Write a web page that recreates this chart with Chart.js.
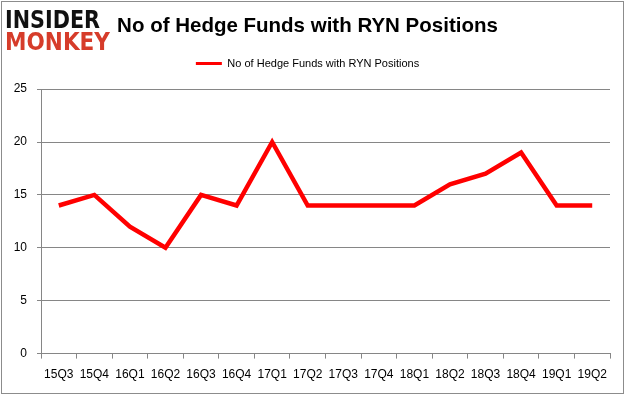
<!DOCTYPE html>
<html>
<head>
<meta charset="utf-8">
<script src="https://cdn.jsdelivr.net/npm/chart.js@4"></script>
<style>
  html, body { margin: 0; padding: 0; background: #fff; }
  #wrap { width: 626px; height: 397px; }
</style>
</head>
<body>
<div id="wrap"><canvas id="myChart" width="626" height="397"></canvas></div>
<script>
// data
var quarters = ['15Q3', '15Q4', '16Q1', '16Q2', '16Q3', '16Q4', '17Q1', '17Q2',
                '17Q3', '17Q4', '18Q1', '18Q2', '18Q3', '18Q4', '19Q1', '19Q2'];
var hedgeFunds = [14, 15, 12, 10, 15, 14, 20, 14, 14, 14, 14, 16, 17, 19, 14, 14];
var seriesName = 'No of Hedge Funds with RYN Positions';
var yTicks = [0, 5, 10, 15, 20, 25];

var gray = '#868686';

// white background, outer frame and the Insider Monkey logo
var frame = {
    id: 'frame',
    beforeInit: function (chart) {
        // leave more room between the legend and the plot
        var fit = chart.legend.fit;
        chart.legend.fit = function () {
            fit.call(this);
            this.height += 10;
        };
    },
    beforeDraw: function (chart) {
        var c = chart.ctx;
        c.save();
        c.fillStyle = '#fff';
        c.fillRect(0, 0, chart.width, chart.height);
        c.strokeStyle = '#8c8c8c';
        c.lineWidth = 1;
        c.strokeRect(1.5, 1.5, 622, 392);
        c.textBaseline = 'alphabetic';
        c.textAlign = 'left';
        c.font = 'bold 25px "DejaVu Sans"';
        c.fillStyle = '#111';
        c.fillText('INSIDER', 5, 28, 95);
        c.fillStyle = '#d63c2a';
        c.fillText('MONKEY', 5, 50, 105);
        c.restore();
    }
};

var ctx = document.getElementById('myChart').getContext('2d');
var myChart = new Chart(ctx, {
    type: 'line',
    data: {
        labels: quarters,
        datasets: [{
            label: seriesName,
            data: hedgeFunds,
            borderColor: '#ff0000',
            backgroundColor: '#ff0000',
            borderWidth: 4.5,
            pointRadius: 0,
            tension: 0,
            fill: false
        }]
    },
    options: {
        responsive: false,
        animation: false,
        layout: { padding: { left: 5, right: 16, top: 8, bottom: 6 } },
        plugins: {
            title: {
                display: true,
                text: seriesName,
                color: '#000',
                font: { family: '"Liberation Sans"', size: 20.5, weight: 'bold' },
                padding: { top: 6, bottom: 15.5 }
            },
            legend: {
                display: true,
                labels: {
                    color: '#000',
                    font: { family: '"Liberation Sans"', size: 11 },
                    boxWidth: 26,
                    boxHeight: 0,
                    padding: 4,
                    generateLabels: function (chart) {
                        return [{
                            text: seriesName,
                            strokeStyle: '#ff0000',
                            fillStyle: '#ff0000',
                            lineWidth: 3,
                            datasetIndex: 0
                        }];
                    }
                }
            },
            tooltip: { enabled: false }
        },
        scales: {
            x: {
                offset: true,
                grid: {
                    offset: true,
                    drawOnChartArea: false,
                    drawTicks: true,
                    tickLength: 5,
                    color: gray
                },
                border: { color: gray },
                ticks: {
                    color: '#000',
                    padding: 9,
                    maxRotation: 0,
                    autoSkip: false,
                    font: { family: '"Liberation Sans"', size: 12 }
                }
            },
            y: {
                min: 0,
                max: 25,
                afterBuildTicks: function (scale) {
                    scale.ticks = yTicks.map(function (v) { return { value: v }; });
                },
                afterFit: function (scale) { scale.width = 36; },
                grid: { color: gray, tickLength: 4 },
                border: { color: gray },
                ticks: {
                    color: '#000',
                    padding: 10,
                    font: { family: '"Liberation Sans"', size: 12 }
                }
            }
        }
    },
    plugins: [frame]
});
</script>
</body>
</html>
